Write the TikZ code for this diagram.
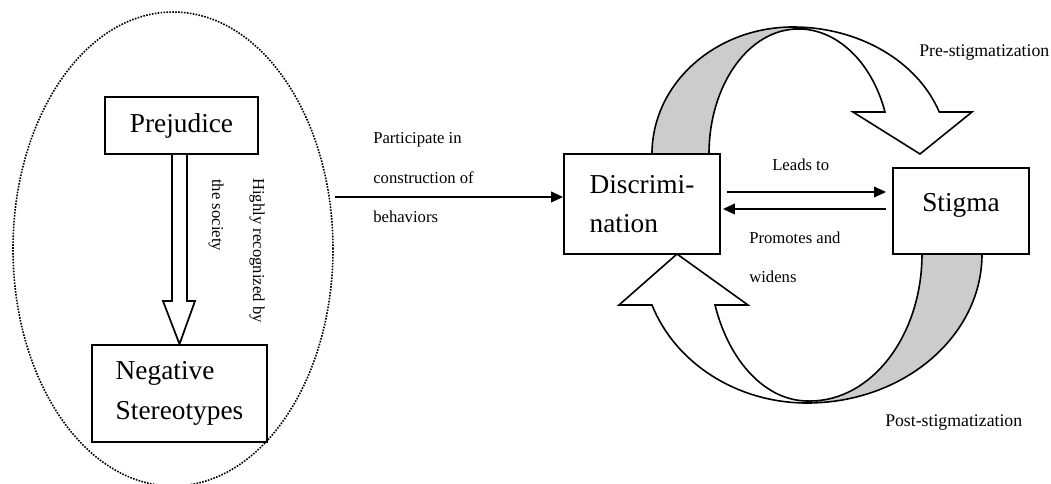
\documentclass[tikz,border=0pt]{standalone}
\usepackage{fontspec}
\setmainfont{Liberation Serif}
\usetikzlibrary{arrows.meta,calc,shapes.geometric}
\definecolor{bandgray}{RGB}{204,204,204}
\begin{document}
\begin{tikzpicture}[x=0.75pt,y=0.75pt,
  box/.style={draw, line width=1.4pt, rectangle, inner sep=0pt, font=\fontsize{20.5}{29}\selectfont},
  lbl/.style={font=\fontsize{12.5}{15}\selectfont, inner sep=0pt},
  stlbl/.style={font=\fontsize{13.3}{16}\selectfont, inner sep=0pt},
  arr/.style={line width=1.3pt, -{Triangle[length=9pt,width=8pt]}},
  hollow/.style={draw, line width=1.3pt, fill=white, line join=miter},
  ribbon/.style={draw, line width=1.2pt, line join=miter}]
\useasboundingbox (0,0) rectangle (1051,-483);

% group ellipse
\node[draw, densely dotted, line width=1.2pt, ellipse, minimum width={320*0.75pt}, minimum height={474*0.75pt}, inner sep=0pt] (grp) at (173,-249) {};

% boxes
\node[box, minimum width={153*0.75pt}, minimum height={57*0.75pt}] (prej) at (181.5,-125.5) {Prejudice};
\node[box, minimum width={175*0.75pt}, minimum height={97*0.75pt}, align=left, font=\fontsize{20.5}{30}\selectfont] (neg) at (179.5,-393.5) {Negative\\Stereotypes};
\node[box, minimum width={156*0.75pt}, minimum height={100*0.75pt}, align=left] (disc) at (642,-204) {Discrimi-\\nation};
\node[box, minimum width={136*0.75pt}, minimum height={86*0.75pt}, text height=7pt, text depth=7pt] (stig) at (961,-211) {Stigma};

% hollow arrow prejudice -> stereotypes
\coordinate (T) at (neg.north);
\draw[hollow] ($(T |- prej.south)+(-7.5,0)$) -- ($(T)+(-7.5,43)$) -- ($(T)+(-16.5,43)$) -- (T) -- ($(T)+(15.5,43)$) -- ($(T)+(7.5,43)$) -- ($(T |- prej.south)+(7.5,0)$);
\node[lbl, rotate=-90, anchor=west] (hr) at (257,-178) {Highly recognized by};
\node[lbl, rotate=-90, anchor=west] (ts) at (216,-179) {the society};

% participate arrow
\coordinate (pstart) at ($(grp.east)+(1,52)$);
\draw[arr] (pstart) -- (pstart -| disc.west);
\node[lbl, anchor=base west] (p1) at (373,-143) {Participate in};
\node[lbl, anchor=base west] (p2) at (373,-183) {construction of};
\node[lbl, anchor=base west] (p3) at (373,-222) {behaviors};

% leads / promotes
\draw[arr] ($(disc.east)+(6,12)$) -- ($(stig.west)+(-6,19)$);
\draw[arr] ($(stig.west)+(-6,2)$) -- ($(disc.east)+(2,-5)$);
\node[lbl, anchor=base west] (lt) at (772,-170) {Leads to};
\node[lbl, anchor=base west] (pa) at (749,-243) {Promotes and};
\node[lbl, anchor=base west] (wd) at (749,-282) {widens};

% top curved arrow
\filldraw[ribbon, fill=bandgray] (652,-154) arc[start angle=180, end angle=90, x radius=141, y radius=127] -- (798,-29) arc[start angle=90, end angle=180, x radius=89, y radius=125] -- cycle;
\filldraw[ribbon, fill=white] (793,-27) arc[start angle=90, end angle=19.3, x radius=155, y radius=127] -- (972,-112) -- (920,-154) -- (853,-112) -- (885,-112) arc[start angle=19.6, end angle=90, x radius=92, y radius=125] -- cycle;

% bottom curved arrow
\filldraw[ribbon, fill=bandgray] (982,-254) arc[start angle=0, end angle=-90, x radius=175, y radius=149] -- (810,-401) arc[start angle=-90, end angle=0, x radius=112, y radius=147] -- cycle;
\filldraw[ribbon, fill=white] (807,-403) arc[start angle=-90, end angle=-160, x radius=165, y radius=149] -- (619,-305) -- (677,-254) -- (748,-305) -- (715,-305) arc[start angle=-159.7, end angle=-90, x radius=99, y radius=147] -- cycle;

\node[stlbl, anchor=base west] (pre) at (919,-56) {Pre-stigmatization};
\node[stlbl, anchor=base west] (post) at (885,-426) {Post-stigmatization};
\end{tikzpicture}
\end{document}
